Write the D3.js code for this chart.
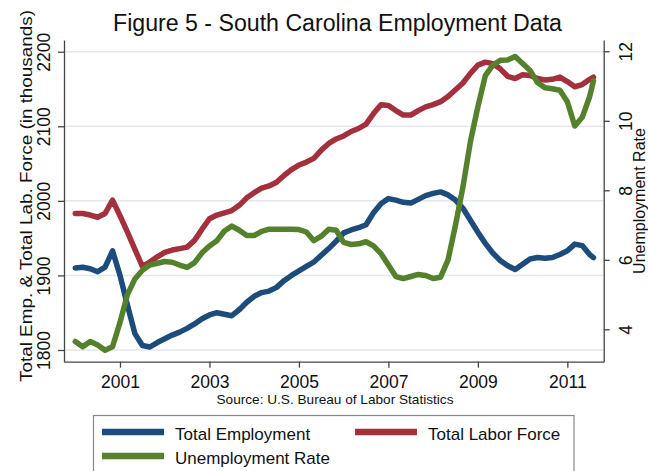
<!DOCTYPE html>
<html><head><meta charset="utf-8">
<script src="https://cdn.jsdelivr.net/npm/d3@7"></script>
<style>html,body{margin:0;padding:0;background:#fff;}svg{display:block;}</style>
</head><body>
<svg id="chart" width="648" height="471"></svg>
<script>
// ---- data, month index 0 = Jan 2000 ----
const months = [0,2,4,6,8,10,12,14,16,18,20,22,24,26,28,30,32,34,36,38,40,42,44,46,48,50,52,54,56,58,60,62,64,66,68,70,72,74,76,78,80,82,84,86,88,90,92,94,96,98,100,102,104,106,108,110,112,114,116,118,120,122,124,126,128,130,132,134,136,138,139];
const totalEmployment = [1910,1911,1909,1905,1911,1933,1900,1860,1822,1806,1804,1810,1815,1820,1824,1829,1835,1842,1847,1850,1848,1846,1854,1864,1872,1877,1879,1884,1893,1900,1906,1912,1918,1927,1936,1946,1957,1961,1964,1968,1984,1996,2003,2001,1998,1997,2002,2007,2010,2012,2008,2001,1990,1974,1958,1943,1930,1920,1913,1908,1915,1922,1924,1923,1924,1928,1933,1942,1940,1928,1924];
const totalLaborForce = [1983,1983,1981,1978,1983,2001,1980,1958,1935,1912,1918,1925,1931,1934,1936,1938,1947,1962,1976,1981,1984,1987,1994,2004,2011,2017,2020,2025,2034,2042,2048,2052,2057,2068,2077,2083,2087,2093,2097,2103,2117,2129,2128,2121,2115,2115,2121,2126,2129,2133,2140,2149,2158,2171,2182,2186,2184,2177,2167,2164,2169,2168,2164,2162,2163,2166,2160,2153,2156,2163,2166];
const unemploymentRate = [3.65,3.5,3.65,3.55,3.4,3.5,4.2,5.0,5.45,5.7,5.85,5.9,5.95,5.93,5.85,5.78,5.92,6.2,6.4,6.55,6.83,6.97,6.85,6.7,6.7,6.82,6.88,6.88,6.88,6.88,6.87,6.8,6.55,6.68,6.88,6.85,6.5,6.44,6.46,6.52,6.4,6.18,5.85,5.52,5.46,5.52,5.58,5.55,5.46,5.5,6.0,7.0,8.1,9.4,10.4,11.3,11.6,11.74,11.75,11.85,11.65,11.45,11.1,10.95,10.92,10.88,10.55,9.85,10.1,10.7,11.15];
const xTicks = [2001,2003,2005,2007,2009,2011];
const leftTicks = [1800,1900,2000,2100,2200];
const rightTicks = [4,6,8,10,12];
const seriesNames = ["Total Employment","Total Labor Force","Unemployment Rate"];
const colors = {emp:"#1c4b7c", lab:"#a3303c", unemp:"#55802c"};

const svg = d3.select("#chart");
const font = "'Liberation Sans', Arial, sans-serif";

const x = d3.scaleLinear().domain([1999.748, 2011.813]).range([64, 603.7]);
const yL = d3.scaleLinear().domain([1784.3, 2215.7]).range([361.7, 40]);
const yR = d3.scaleLinear().domain([3.068, 12.325]).range([361.7, 40]);
const t = m => 2000 + m / 12;

// gridlines
svg.append("g").selectAll("line").data(leftTicks).join("line")
  .attr("x1", 64).attr("x2", 603.7)
  .attr("y1", d => yL(d)).attr("y2", d => yL(d))
  .attr("stroke", "#e3e7eb").attr("stroke-width", 1.5);

// series
const mk = (vals, ys) => d3.line().x((d,i) => x(t(months[i]))).y(d => ys(d)).curve(d3.curveLinear)(vals);
const lines = svg.append("g").attr("fill","none").attr("stroke-width",5.5).attr("stroke-linejoin","round").attr("stroke-linecap","round");
lines.append("path").attr("d", mk(totalEmployment, yL)).attr("stroke", colors.emp);
lines.append("path").attr("d", mk(totalLaborForce, yL)).attr("stroke", colors.lab);
lines.append("path").attr("d", mk(unemploymentRate, yR)).attr("stroke", colors.unemp);

// axes
const axisColor = "#444";
const gx = svg.append("g").attr("transform","translate(0,361.7)")
  .call(d3.axisBottom(x).tickValues(xTicks).tickFormat(d3.format("d")).tickSize(6).tickPadding(4).tickSizeOuter(0));
const gl = svg.append("g").attr("transform","translate(64,0)")
  .call(d3.axisLeft(yL).tickValues(leftTicks).tickFormat(d3.format("d")).tickSize(6).tickSizeOuter(0));
const gr = svg.append("g").attr("transform","translate(603.7,0)")
  .call(d3.axisRight(yR).tickValues(rightTicks).tickFormat(d3.format("d")).tickSize(6).tickSizeOuter(0));
[gx,gl,gr].forEach(g => {
  g.select(".domain").attr("stroke", axisColor).attr("stroke-width", 1.3);
  g.selectAll(".tick line").attr("stroke", axisColor).attr("stroke-width", 1.3);
  g.selectAll("text").attr("font-family", font).attr("font-size", 17.5).attr("fill", "#111");
});
gx.selectAll(".tick text").attr("dy", null).attr("y", 26);
gl.selectAll(".tick text").attr("x", null).attr("dy", null).attr("text-anchor","middle")
  .attr("transform", "translate(-14,0) rotate(-90)").attr("y", 0);
gr.selectAll(".tick text").attr("x", null).attr("dy", null).attr("text-anchor","middle")
  .attr("transform", "translate(28,0) rotate(-90)").attr("y", 0);

// titles
svg.append("text").attr("x", 337.5).attr("y", 31).attr("text-anchor","middle")
  .attr("font-family", font).attr("font-size", 23).attr("fill","#111")
  .attr("textLength", 449).attr("lengthAdjust","spacingAndGlyphs")
  .text("Figure 5 - South Carolina Employment Data");
svg.append("text").attr("transform","translate(32,196) rotate(-90)").attr("text-anchor","middle")
  .attr("font-family", font).attr("font-size", 17).attr("fill","#111")
  .attr("textLength", 372).attr("lengthAdjust","spacingAndGlyphs")
  .text("Total Emp. & Total Lab. Force (in thousands)");
svg.append("text").attr("transform","translate(645,201) rotate(-90)").attr("text-anchor","middle")
  .attr("font-family", font).attr("font-size", 16).attr("fill","#111")
  .text("Unemployment Rate");
svg.append("text").attr("x", 335).attr("y", 403.5).attr("text-anchor","middle")
  .attr("font-family", font).attr("font-size", 13).attr("fill","#111")
  .attr("textLength", 237).attr("lengthAdjust","spacingAndGlyphs")
  .text("Source: U.S. Bureau of Labor Statistics");

// legend
const lg = svg.append("g");
lg.append("rect").attr("x", 93.5).attr("y", 415.5).attr("width", 480.5).attr("height", 70)
  .attr("fill","#fff").attr("stroke","#888").attr("stroke-width",1.2);
const items = [
  {name: seriesNames[0], color: colors.emp, x: 102, y: 432},
  {name: seriesNames[1], color: colors.lab, x: 355, y: 432},
  {name: seriesNames[2], color: colors.unemp, x: 102, y: 456}
];
items.forEach(it => {
  lg.append("line").attr("x1", it.x).attr("x2", it.x + 62).attr("y1", it.y).attr("y2", it.y)
    .attr("stroke", it.color).attr("stroke-width", 6.5);
  lg.append("text").attr("x", it.x + 73).attr("y", it.y + 7.5)
    .attr("font-family", font).attr("font-size", 17).attr("fill","#111").text(it.name);
});
</script>
</body></html>
